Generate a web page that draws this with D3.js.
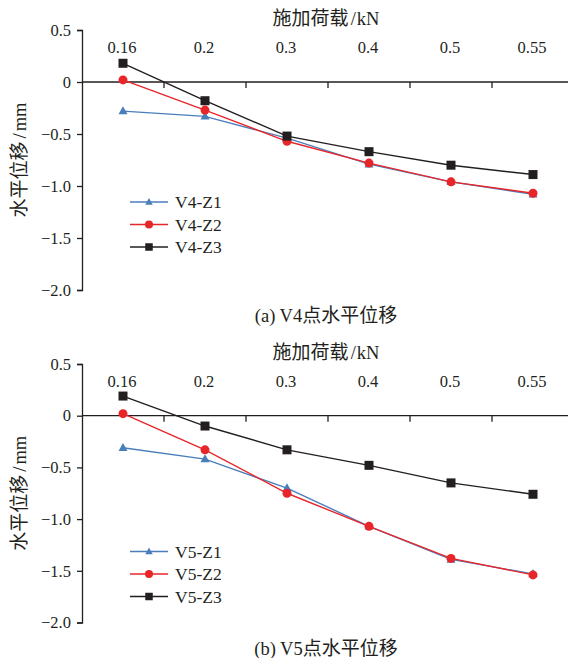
<!DOCTYPE html>
<html>
<head>
<meta charset="utf-8">
<script src="https://cdn.jsdelivr.net/npm/d3@7/dist/d3.min.js"></script>
<style>
  html, body { margin: 0; padding: 0; background: #fff; }
  svg { display: block; }
  text { font-family: "Liberation Serif", "Noto Sans CJK SC", serif; fill: #231f20; }
  .cjk { font-family: "Noto Sans CJK SC", sans-serif; }
</style>
</head>
<body>
<svg id="chart" width="568" height="658"></svg>
<script>
// Load steps (kN) shared by both panels
const loads = ["0.16", "0.2", "0.3", "0.4", "0.5", "0.55"];
const yTicks = [0.5, 0, -0.5, -1.0, -1.5, -2.0];

// Panel (a): horizontal displacement at point V4 (mm)
const v4Z1 = [-0.28, -0.33, -0.54, -0.79, -0.96, -1.08];
const v4Z2 = [0.02, -0.27, -0.57, -0.78, -0.96, -1.07];
const v4Z3 = [0.18, -0.18, -0.52, -0.67, -0.80, -0.89];

// Panel (b): horizontal displacement at point V5 (mm)
const v5Z1 = [-0.31, -0.42, -0.70, -1.07, -1.39, -1.53];
const v5Z2 = [0.02, -0.33, -0.75, -1.07, -1.38, -1.54];
const v5Z3 = [0.19, -0.10, -0.33, -0.48, -0.65, -0.76];

const svg = d3.select("#chart");
const ink = "#231f20";
const styles = [
  { color: "#4a7ebb", shape: "triangle" },
  { color: "#e8262a", shape: "circle" },
  { color: "#231f20", shape: "square" }
];

function drawMarker(g, shape, color, cx, cy, s) {
  if (shape === "circle") {
    g.append("circle").attr("cx", cx).attr("cy", cy).attr("r", s / 2).attr("fill", color);
  } else if (shape === "square") {
    g.append("rect").attr("x", cx - s / 2).attr("y", cy - s / 2)
      .attr("width", s).attr("height", s).attr("fill", color);
  } else {
    const h = s * 0.9;
    g.append("path")
      .attr("d", `M${cx},${cy - h * 0.6}L${cx + s / 2},${cy + h * 0.4}L${cx - s / 2},${cy + h * 0.4}Z`)
      .attr("fill", color);
  }
}

// text made of mixed CJK / Latin runs, each run with its own font size
function mixed(sel, parts) {
  parts.forEach(p => {
    const t = sel.append("tspan").text(p.t).attr("font-size", p.cjk ? 19 : 18.5);
    if (p.cjk) t.attr("class", "cjk");
    if (p.dx) t.attr("dx", p.dx);
  });
  return sel;
}

function panel(top, bottom, series, names, caption, legendY) {
  const g = svg.append("g");
  const x = d3.scaleBand().domain(loads).range([82, 574]);
  const y = d3.scaleLinear().domain([0.5, -2.0]).range([top, bottom]);

  // left value axis, ticks pointing outward
  const ya = g.append("g").attr("transform", "translate(82,0)")
    .call(d3.axisLeft(y).tickValues(yTicks).tickSize(5).tickPadding(6)
      .tickFormat(d => d === 0 ? "0" : d3.format(".1f")(d).replace("-", "\u2212")));
  ya.select(".domain").attr("stroke", ink).attr("stroke-width", 1.3);
  ya.selectAll(".tick line").attr("stroke", ink).attr("stroke-width", 1.3);
  ya.selectAll(".tick text").attr("font-size", 16.5).attr("fill", ink)
    .style("font-family", "'Liberation Serif', serif");

  // load axis along zero line, tick marks between categories, labels on top
  const y0 = y(0);
  g.append("line").attr("x1", 82).attr("x2", 574).attr("y1", y0).attr("y2", y0)
    .attr("stroke", ink).attr("stroke-width", 1.3);
  loads.slice(1).forEach(l => {
    g.append("line").attr("x1", x(l)).attr("x2", x(l)).attr("y1", y0).attr("y2", y0 + 6)
      .attr("stroke", ink).attr("stroke-width", 1.3);
  });
  g.selectAll(".xl").data(loads).enter().append("text")
    .attr("x", d => x(d) + x.bandwidth() / 2 - 1)
    .attr("y", top + 23)
    .attr("text-anchor", "middle").attr("font-size", 16.5)
    .text(d => d);

  mixed(g.append("text").attr("x", 326).attr("y", top - 5).attr("text-anchor", "middle"),
    [{ t: "施加荷载", cjk: true }, { t: "/", dx: 2 }, { t: "kN", dx: 1 }]);

  mixed(g.append("text")
    .attr("transform", `translate(26,${(top + bottom) / 2}) rotate(-90)`)
    .attr("text-anchor", "middle"),
    [{ t: "水平位移", cjk: true }, { t: "/", dx: 3 }, { t: "mm", dx: 2 }]);

  mixed(g.append("text").attr("x", 326).attr("y", bottom + 32).attr("text-anchor", "middle"),
    [{ t: caption[0] }, { t: caption[1], cjk: true }]);

  const cx = d => x(d) + x.bandwidth() / 2;
  series.forEach((vals, i) => {
    const st = styles[i];
    const pts = loads.map((l, k) => [cx(l), y(vals[k])]);
    g.append("path").attr("d", d3.line()(pts)).attr("fill", "none")
      .attr("stroke", st.color).attr("stroke-width", 1.4);
    pts.forEach(p => drawMarker(g, st.shape, st.color, p[0], p[1], 9));
  });

  // legend
  names.forEach((n, i) => {
    const st = styles[i];
    const ly = legendY + i * 22.5;
    g.append("line").attr("x1", 130).attr("x2", 168).attr("y1", ly).attr("y2", ly)
      .attr("stroke", st.color).attr("stroke-width", 1.4);
    drawMarker(g, st.shape, st.color, 149, ly, st.shape === "circle" ? 8 : 7.5);
    g.append("text").attr("x", 175).attr("y", ly + 6).attr("font-size", 17.5).text(n);
  });
}

panel(30, 290, [v4Z1, v4Z2, v4Z3], ["V4-Z1", "V4-Z2", "V4-Z3"], ["(a) V4", "点水平位移"], 202);
panel(364, 622.5, [v5Z1, v5Z2, v5Z3], ["V5-Z1", "V5-Z2", "V5-Z3"], ["(b) V5", "点水平位移"], 551.5);
</script>
</body>
</html>
